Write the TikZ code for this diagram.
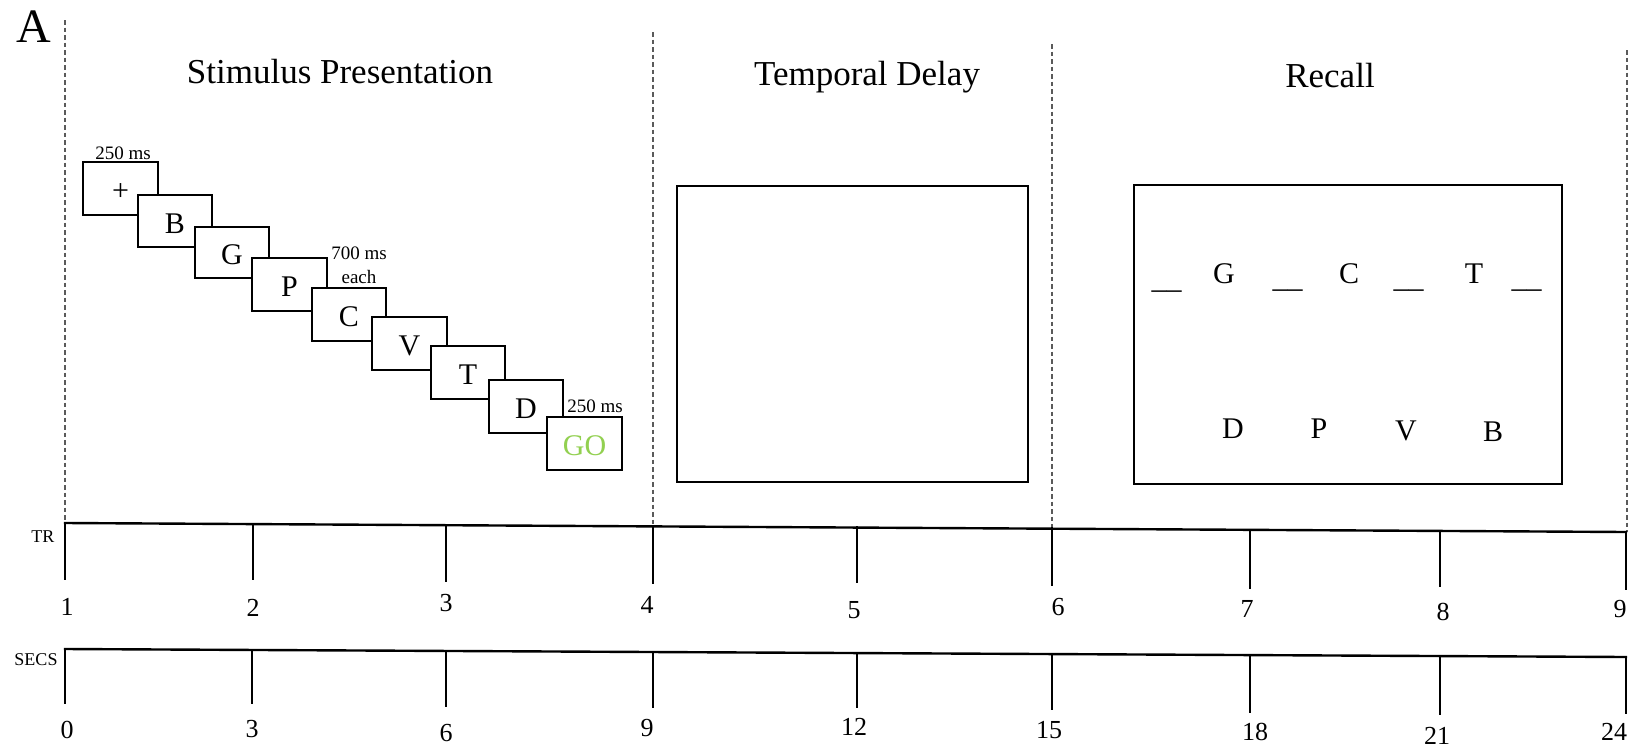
\documentclass[tikz,border=0pt]{standalone}
\usepackage{fontspec}
\setmainfont{Liberation Serif}
\definecolor{goGreen}{RGB}{146,208,80}
\definecolor{dashGray}{RGB}{90,90,90}
\newcommand\fs[1]{\fontsize{#1}{#1}\selectfont}
\newcommand\stimframe[6]{%
  \node[stimbox, minimum width={(#4-#2)*1pt}, minimum height={(#5-#3)*1pt}] (#1) at ({(#2+#4)/2},{(#3+#5)/2}) {};
  \node[letter] (#1t) at ({(#2+#4)/2},{(#3+#5)/2+12}) {#6};
}
\begin{document}
\begin{tikzpicture}[x=1pt,y=-1pt,
  stimbox/.style={draw, line width=2.2pt, fill=white, inner sep=0pt, outer sep=0pt},
  screen/.style={draw, line width=2.4pt, fill=white, inner sep=0pt, outer sep=0pt},
  letter/.style={anchor=base, font=\fs{30}, inner sep=0pt},
  title/.style={anchor=base, font=\fs{35}, inner sep=0pt},
  small/.style={anchor=base, font=\fs{19}, inner sep=0pt},
  num/.style={anchor=center, font=\fs{26}, inner sep=0pt},
  axlab/.style={anchor=center, font=\fs{18}, inner sep=0pt},
  axis/.style={line width=2.4pt, line cap=rect},
  divider/.style={draw=dashGray, line width=1.2pt, dash pattern=on 4.5pt off 3pt}
]
\useasboundingbox (0,0) rectangle (1633,747);

% panel letter
\node[anchor=base west, font=\fs{48}, inner sep=0pt] (panelA) at (16,42) {A};

% dashed dividers
\coordinate (d1t) at (65,20);   \coordinate (d1b) at (65,523);
\coordinate (d2t) at (653,32);  \coordinate (d2b) at (653,527);
\coordinate (d3t) at (1052,44); \coordinate (d3b) at (1052,529);
\coordinate (d4t) at (1627,50); \coordinate (d4b) at (1627,532);
\draw[divider] (d1t) -- (d1b);
\draw[divider] (d2t) -- (d2b);
\draw[divider] (d3t) -- (d3b);
\draw[divider] (d4t) -- (d4b);

% titles
\node[title] (tStim) at (340,83) {Stimulus Presentation};
\node[title] (tDelay) at (867,85) {Temporal Delay};
\node[title] (tRecall) at (1330,87) {Recall};

% stimulus sequence
\stimframe{s1}{83}{162}{158}{215}{+}
\stimframe{s2}{138}{195}{212}{247}{B}
\stimframe{s3}{195}{227}{269}{278}{G}
\stimframe{s4}{252}{258}{327}{311}{P}
\stimframe{s5}{312}{288}{386}{341}{C}
\stimframe{s6}{372}{317}{447}{370}{V}
\stimframe{s7}{431}{346}{505}{399}{T}
\stimframe{s8}{489}{380}{563}{433}{D}
\stimframe{s9}{547}{417}{622}{470}{\color{goGreen}GO}

\node[small] (lab250a) at (123,159) {250 ms};
\node[small] (lab700) at (359,259) {700 ms};
\node[small] (labeach) at (359,283) {each};
\node[small] (lab250b) at (595,412) {250 ms};

% delay screen
\node[screen, minimum width=351pt, minimum height=296pt] (delay) at (852.5,334) {};

% recall screen
\node[screen, minimum width=428pt, minimum height=299pt] (recall) at (1348,334.5) {};
\node[letter] (rG) at (1224,283) {G};
\node[letter] (rC) at (1349,283) {C};
\node[letter] (rT) at (1474,283) {T};
\node[letter] (rb1) at (1166.5,288) {\_\_};
\node[letter] (rb2) at (1287.5,287) {\_\_};
\node[letter] (rb3) at (1408.5,287) {\_\_};
\node[letter] (rb4) at (1526.5,287) {\_\_};
\node[letter] (rD) at (1233,438) {D};
\node[letter] (rP) at (1319,438) {P};
\node[letter] (rV) at (1406,440) {V};
\node[letter] (rB) at (1493,441) {B};

% TR axis
\coordinate (trL) at (65,523);
\coordinate (trR) at (1626,532);
\draw[axis] (trL) -- (trR);
\node[axlab] (trname) at (43,537) {TR};
\foreach \x/\yb/\lab/\lx/\ly [count=\i] in {
  65/579/1/67/607, 253/579/2/253/608, 446/581/3/446/603,
  653/583/4/647/605, 857/582/5/854/610, 1052/585/6/1058/607,
  1250/588/7/1247/609, 1440/586/8/1443/612, 1626/589/9/1620/609} {
  \pgfmathsetmacro\yt{523+9*(\x-65)/1561}
  \coordinate (trtop\i) at (\x,\yt);
  \coordinate (trbot\i) at (\x,\yb);
  \draw[axis] (trtop\i) -- (trbot\i);
  \node[num] (trlab\i) at (\lx,\ly) {\lab};
}

% SECS axis
\coordinate (scL) at (65,649);
\coordinate (scR) at (1626,657);
\draw[axis] (scL) -- (scR);
\node[axlab] (scname) at (36,660) {SECS};
\foreach \x/\yb/\lab/\lx/\ly [count=\i] in {
  65/703/0/67/730, 252/703/3/252/729, 446/706/6/446/733,
  653/707/9/647/728, 857/707/12/854/727, 1052/709/15/1049/730,
  1250/712/18/1255/732, 1440/714/21/1437/736, 1626/713/24/1614/732} {
  \pgfmathsetmacro\yt{649+8*(\x-65)/1561}
  \coordinate (sctop\i) at (\x,\yt);
  \coordinate (scbot\i) at (\x,\yb);
  \draw[axis] (sctop\i) -- (scbot\i);
  \node[num] (sclab\i) at (\lx,\ly) {\lab};
}
\end{tikzpicture}
\end{document}
